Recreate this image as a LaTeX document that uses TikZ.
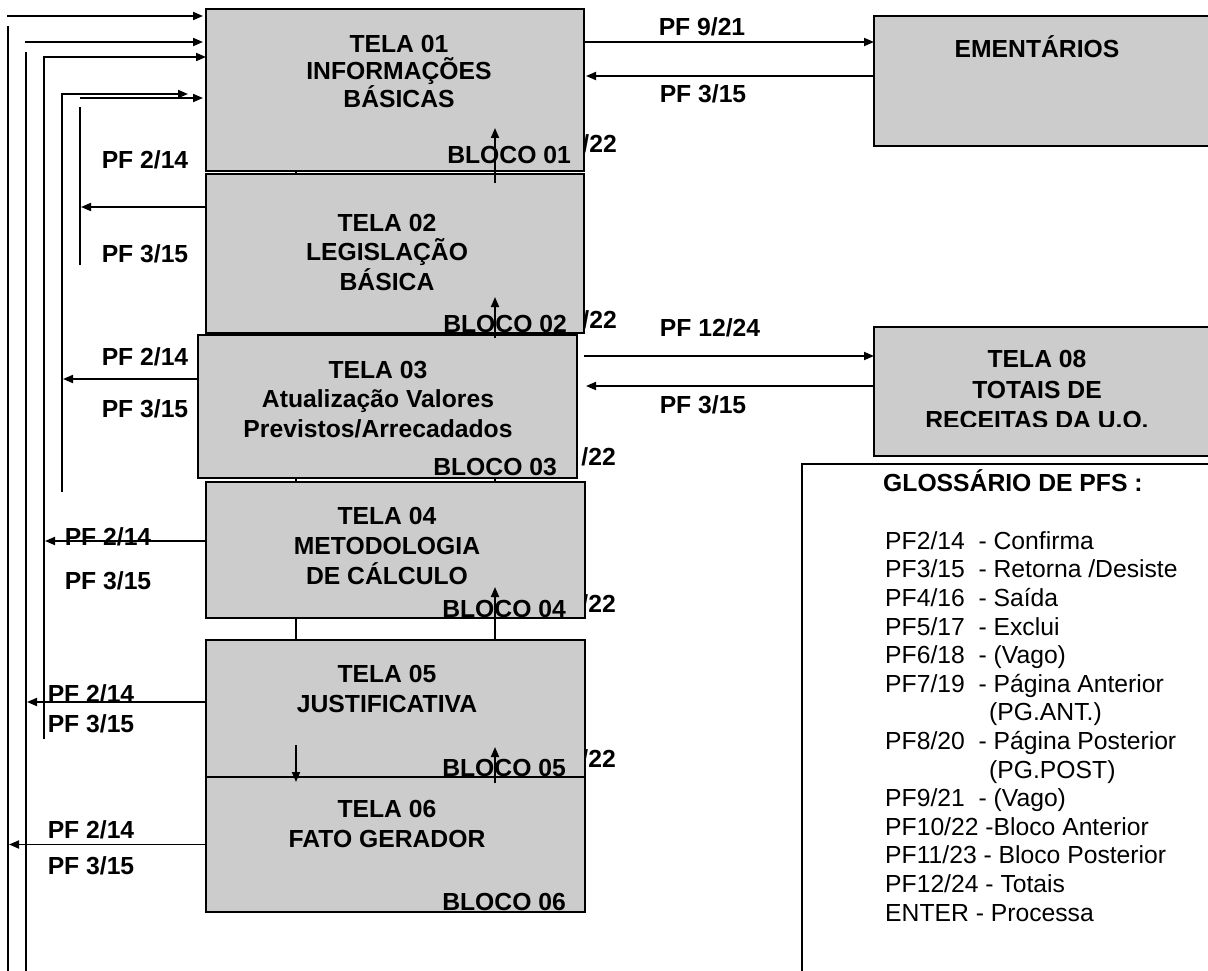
\documentclass[tikz,border=0pt]{standalone}
\usepackage{fontspec}
\setmainfont{Liberation Sans}
\usetikzlibrary{arrows.meta}
\definecolor{boxgray}{RGB}{204,204,204}
\begin{document}
\begin{tikzpicture}[x=1pt,y=-1pt,
  box/.style={draw=black,line width=2pt,fill=boxgray,inner sep=0pt,outer sep=0pt,anchor=north west},
  btxt/.style={font=\bfseries\fontsize{24.7}{29}\selectfont,anchor=base,inner sep=0pt},
  blk/.style={btxt,anchor=base east},
  gtxt/.style={font=\fontsize{24.7}{28.6}\selectfont,anchor=base west,inner sep=0pt},
  conn/.style={line width=1.8pt},
  arr/.style={conn,-{Triangle[length=10pt,width=8pt]}}]
\useasboundingbox (0,0) rectangle (1208,971);
\clip (0,0) rectangle (1208,971);

% partially hidden labels
\node[blk] (h1) at (617,153) {/22};
\node[blk] (h2) at (617,328) {/22};
\node[blk] (h3) at (616,465) {/22};
\node[blk] (h4) at (616,612) {/22};
\node[blk] (h5) at (616,767) {/22};

% screen boxes
\node[box,minimum width=378pt,minimum height=162pt] (t1) at (206,9) {};
\node[box,minimum width=378pt,minimum height=159pt] (t2) at (206,174) {};
\draw[conn] ([xshift=90pt]t1.south west) -- ([xshift=90pt]t2.north west);
\node[box,minimum width=379pt,minimum height=143pt] (t3) at (198,335) {};
\draw[arr] ([xshift=289pt,yshift=-9pt]t2.north west) -- ([xshift=289pt,yshift=43pt]t1.south west);
\draw[arr] ([xshift=297pt,yshift=-3pt]t3.north west) -- ([xshift=289pt,yshift=36pt]t2.south west);
\node[box,minimum width=379pt,minimum height=136pt] (t4) at (206,482) {};
\draw[conn] ([xshift=98pt]t3.south west) -- ([xshift=90pt]t4.north west);
\draw[conn] ([xshift=297pt]t3.south west) -- ([xshift=289pt]t4.north west);
\node[box,minimum width=379pt,minimum height=137pt] (t5) at (206,640) {};
\draw[conn] ([xshift=90pt]t4.south west) -- ([xshift=90pt]t5.north west);
\draw[arr] ([xshift=289pt]t5.north west) -- ([xshift=289pt,yshift=31pt]t4.south west);
\node[box,minimum width=379pt,minimum height=135pt] (t6) at (206,777) {};

% right boxes
\node[box,minimum width=400pt,minimum height=130pt] (em) at (874,16) {};
\node[box,minimum width=400pt,minimum height=129pt] (t8) at (874,327) {};
\node[box,fill=white,minimum width=450pt,minimum height=560pt] (gl) at (802,464) {};

% box texts
\node[btxt] (t1a) at (399,53) {TELA 01};
\node[btxt] (t1b) at (399,80) {INFORMAÇÕES};
\node[btxt] (t1c) at (399,108) {BÁSICAS};
\node[blk] (b1) at (571,164) {BLOCO 01};
\node[btxt] (t2a) at (387,231) {TELA 02};
\node[btxt] (t2b) at (387,260) {LEGISLAÇÃO};
\node[btxt] (t2c) at (387,290) {BÁSICA};
\node[blk] (b2) at (567,332) {BLOCO 02};
\node[btxt] (t3a) at (378,378) {TELA 03};
\node[btxt] (t3b) at (378,407) {Atualização Valores};
\node[btxt] (t3c) at (378,437) {Previstos/Arrecadados};
\node[blk] (b3) at (557,475) {BLOCO 03};
\node[btxt] (t4a) at (387,524) {TELA 04};
\node[btxt] (t4b) at (387,554) {METODOLOGIA};
\node[btxt] (t4c) at (387,584) {DE CÁLCULO};
\node[blk] (b4) at (566,617) {BLOCO 04};
\node[btxt] (t5a) at (387,682) {TELA 05};
\node[btxt] (t5b) at (387,712) {JUSTIFICATIVA};
\node[blk] (b5) at (566,776) {BLOCO 05};
\node[btxt] (t6a) at (387,817) {TELA 06};
\node[btxt] (t6b) at (387,847) {FATO GERADOR};
\node[blk] (b6) at (566,910) {BLOCO 06};

\node[btxt] (emt) at (1037,58) {EMENTÁRIOS};
\node[btxt] (t8a) at (1037,367) {TELA 08};
\node[btxt] (t8b) at (1037,398) {TOTAIS DE};
\begin{scope}
\clip (874,327) rectangle (1208,426);
\node[btxt] (t8c) at (1037,428) {RECEITAS DA U.O.};
\end{scope}

% arrows between boxes (block navigation)
\draw[arr] ([xshift=289pt,yshift=-6pt]t6.north west) -- ([xshift=289pt,yshift=30pt]t5.south west);
\draw[arr] ([xshift=90pt,yshift=32pt]t5.south west) -- ([xshift=90pt,yshift=-5pt]t6.north west);

% right-hand connectors
\draw[arr] ([yshift=-33pt]t1.north east) -- ([yshift=-26pt]em.north west);
\draw[arr] ([yshift=-60pt]em.north west) -- ([xshift=2pt,yshift=-67pt]t1.north east);
\draw[arr] ([xshift=7pt,yshift=-21pt]t3.north east) -- ([yshift=-29pt]t8.north west);
\draw[arr] ([yshift=-59pt]t8.north west) -- ([xshift=9pt,yshift=-51pt]t3.north east);
\node[btxt] (r1) at (702,36) {PF 9/21};
\node[btxt] (r2) at (703,103) {PF 3/15};
\node[btxt] (r3) at (710,336) {PF 12/24};
\node[btxt] (r4) at (703,413) {PF 3/15};

% left-hand bus lines
\coordinate (s1) at (7,16);
\coordinate (s2) at (25,42);
\draw[arr] (s1) -- ([xshift=-3pt,yshift=-7pt]t1.north west);
\draw[arr] (s2) -- ([xshift=-3pt,yshift=-33pt]t1.north west);
\draw[arr] (44,739) -- (44,57) -- ([yshift=-48pt]t1.north west);
\coordinate (e4) at (188,94);
\draw[arr] (62,492) -- (62,94) -- (e4);
\coordinate (s5) at (80,98);
\draw[arr] (s5) -- ([xshift=-3pt,yshift=-89pt]t1.north west);
\draw[conn] (8,26) -- (8,975);
\draw[conn] (26,52) -- (26,975);
\draw[conn] (80,107) -- (80,265);

\coordinate (a2) at ([yshift=-33pt]t2.north west);
\coordinate (a3) at ([yshift=-44pt]t3.north west);
\coordinate (a4) at ([yshift=-59pt]t4.north west);
\coordinate (a5) at ([yshift=-62pt]t5.north west);
\draw[arr] (a2) -- (81,207);
\draw[arr] (a3) -- (63,379);
\draw[arr] (a4) -- (45,541);
\draw[arr] (a5) -- (27,702);
\draw[arr] (t6.west) -- (9,844.5);

% left labels
\node[btxt] (l1) at (145,168) {PF 2/14};
\node[btxt] (l2) at (145,262) {PF 3/15};
\node[btxt] (l3) at (145,365) {PF 2/14};
\node[btxt] (l4) at (145,417) {PF 3/15};
\node[btxt] (l5) at (108,545) {PF 2/14};
\node[btxt] (l6) at (108,589) {PF 3/15};
\node[btxt] (l7) at (91,702) {PF 2/14};
\node[btxt] (l8) at (91,732) {PF 3/15};
\node[btxt] (l9) at (91,838) {PF 2/14};
\node[btxt] (l10) at (91,874) {PF 3/15};

% glossary
\node[btxt,anchor=base west] (g0) at (883,491) {GLOSSÁRIO DE PFS :};
\node[gtxt] (g1) at (885,549.3) {PF2/14~ - Confirma};
\node[gtxt] (g2) at (885,577.9) {PF3/15~ - Retorna /Desiste};
\node[gtxt] (g3) at (885,606.5) {PF4/16~ - Saída};
\node[gtxt] (g4) at (885,635.1) {PF5/17~ - Exclui};
\node[gtxt] (g5) at (885,663.7) {PF6/18~ - (Vago)};
\node[gtxt] (g6) at (885,692.3) {PF7/19~ - Página Anterior};
\node[gtxt] (g7) at (989,720.9) {(PG.ANT.)};
\node[gtxt] (g8) at (885,749.5) {PF8/20~ - Página Posterior};
\node[gtxt] (g9) at (989,778.1) {(PG.POST)};
\node[gtxt] (g10) at (885,806.7) {PF9/21~ - (Vago)};
\node[gtxt] (g11) at (885,835.3) {PF10/22 -Bloco Anterior};
\node[gtxt] (g12) at (885,863.9) {PF11/23 - Bloco Posterior};
\node[gtxt] (g13) at (885,892.5) {PF12/24 - Totais};
\node[gtxt] (g14) at (885,921.1) {ENTER - Processa};
\end{tikzpicture}
\end{document}
